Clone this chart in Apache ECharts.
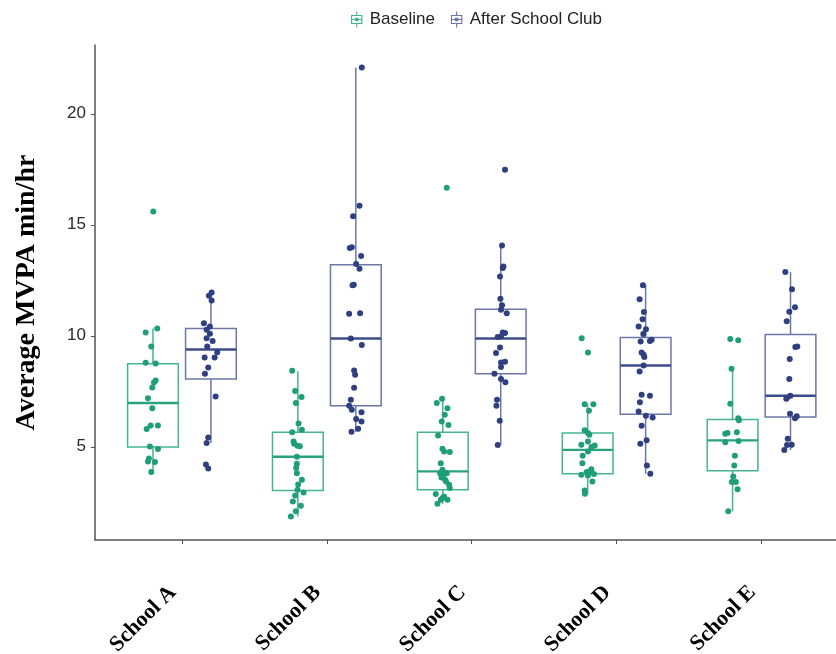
<!DOCTYPE html>
<html>
<head>
<meta charset="utf-8">
<script src="https://cdn.jsdelivr.net/npm/echarts@6/dist/echarts.min.js"></script>
<style>html,body{margin:0;padding:0;background:#fff}#c{width:836px;height:654px}</style>
</head>
<body>
<div id="c"></div>
<script>
const categories = ['School A', 'School B', 'School C', 'School D', 'School E'];
const yTicks = [5, 10, 15, 20];
const groupNames = ['Baseline', 'After School Club'];

// box stats: [lower whisker, Q1, median, Q3, upper whisker]
const baselineBoxes = [
  [3.86, 4.99, 6.97, 8.74, 10.33],
  [1.86, 3.03, 4.55, 5.65, 8.40],
  [2.43, 3.06, 3.89, 5.65, 7.17],
  [2.88, 3.78, 4.86, 5.62, 6.91],
  [2.09, 3.92, 5.29, 6.23, 8.51]
];
const afterBoxes = [
  [5.17, 8.05, 9.38, 10.33, 11.95],
  [5.68, 6.85, 9.88, 13.20, 22.08],
  [5.08, 8.29, 9.88, 11.19, 14.07],
  [3.78, 6.47, 8.66, 9.92, 12.28],
  [4.85, 6.34, 7.30, 10.06, 12.87]
];

// individual observations
const baselineA = [15.60,10.33,10.15,9.52,8.78,8.75,7.99,7.90,7.67,7.19,6.73,5.96,5.96,5.80,5.01,4.90,4.47,4.34,4.31,3.86];
const baselineB = [8.42,7.51,7.24,6.97,6.05,5.65,5.77,5.24,5.14,5.05,5.02,4.55,4.23,4.04,3.81,3.51,3.30,3.06,2.94,2.81,2.54,2.34,2.09,1.86];
const baselineC = [16.67,7.16,6.97,6.74,6.44,6.14,5.98,5.51,4.91,4.79,4.76,4.26,3.96,3.81,3.81,3.74,3.62,3.51,3.44,3.29,3.14,2.87,2.76,2.69,2.61,2.43,2.61];
const baselineD = [9.89,9.25,6.92,6.92,6.62,5.74,5.62,5.54,5.24,5.09,5.06,4.99,4.79,4.59,4.26,3.99,3.86,3.89,3.74,3.77,3.71,3.44,3.03,2.88];
const baselineE = [9.85,9.80,8.51,6.94,6.29,6.19,5.59,5.62,5.65,5.20,5.26,4.59,4.16,3.66,3.41,3.41,3.09,2.09];

const afterA = [11.95,11.80,11.59,10.57,10.42,10.27,10.09,9.89,9.77,9.52,9.26,9.02,9.02,8.57,8.29,7.27,5.42,5.17,4.20,4.02];
const afterB = [22.09,15.86,15.38,13.95,13.99,13.59,13.23,13.02,12.28,12.30,10.99,11.02,9.88,9.58,8.44,8.24,7.66,7.12,6.85,6.67,6.55,6.25,6.14,5.81,5.68];
const afterC = [17.48,14.07,13.12,13.05,12.67,11.67,11.37,11.17,11.02,10.15,10.12,9.97,9.94,9.47,9.22,8.80,8.83,8.59,8.29,8.05,7.91,7.12,6.85,6.17,5.08];
const afterD = [12.28,11.65,11.07,10.75,10.42,10.30,10.08,9.74,9.77,9.82,9.25,9.14,9.04,8.66,8.39,7.34,7.30,7.01,6.59,6.40,6.32,5.95,5.29,5.14,4.16,3.78];
const afterE = [12.87,12.10,11.28,11.08,10.65,9.49,9.52,8.95,8.05,7.30,7.21,7.16,6.49,6.37,6.28,5.36,5.08,5.09,4.85];

const baselineJitterA = [0.3,4.3,-7.3,-1.7,-7.3,2.7,2.7,1,-0.7,-5,-0.7,-2.3,5,-6.3,-3,5,-4,-5,2,-1.7];
const baselineJitterB = [-5.7,-2.7,3.7,-2,0.7,-5.7,4,-4.3,-3.7,-0.3,2,-1,-1,-1.7,-1,4,0.3,-0.3,5.7,-2.7,-5,3,-2,-7];
const baselineJitterC = [4,-0.7,-6,4.7,2,-1,5.7,-4.7,-0.3,1.3,7,-2,-0.3,-2.7,4,0.7,-1.3,2.3,3.3,6.3,7,-7,1.3,-0.3,4.7,-5.3,-2];
const baselineJitterD = [-6,0.3,-3,5.7,1.3,-3,0.3,1.7,0.3,-6.3,7,3.7,0.3,-5,-5.3,3.7,-1,2.3,-6.3,6.3,0.3,4.7,-3,-2.7];
const baselineJitterE = [-2.3,5.7,-1,-2.3,5.7,6.3,-7.3,-5,4.3,-7.3,6,2.3,1.7,0.7,-0.7,3.3,5,-4.3];

const afterJitterA = [0.7,-2,0.7,-7,-1,-4.3,-1,-4.3,1.7,-3.7,6.3,-6.3,3.7,-2.7,-6,4.7,-2.7,-4.3,-5,-2.7];
const afterJitterB = [6,3.7,-2.7,-6,-4,5.3,0.3,3.7,-3.3,-2,-6.7,4.3,-5,6,-1.7,-0.7,-1.7,-5,-6.7,-4,5.7,0.3,5.7,2.3,-4.3];
const afterJitterC = [4.3,1.3,2.7,2,-0.7,-0.3,1.3,0.3,6,2,4.3,0.3,-3,-0.7,-4.7,0.3,4.3,0.3,-6.3,0.3,4.7,-3.7,-4.3,-1,-3];
const afterJitterD = [-2.7,-6,-1.7,-3,-7,0.3,-2.3,-5,4.3,6,-4,-2,-1.3,-2,-6,-4,4.3,-5.7,-7,0.3,7,-4,1,-5.3,1.3,4.7];
const afterJitterE = [-5.2,1.5,4.5,-1.2,-3.8,4.8,6.8,-0.8,-1.2,-0.2,-3.5,-4.2,-0.5,6.2,4.5,-2.8,-3.5,1.2,-6.2];

const baselineValues = [baselineA, baselineB, baselineC, baselineD, baselineE];
const afterValues = [afterA, afterB, afterC, afterD, afterE];
const baselineJitter = [baselineJitterA, baselineJitterB, baselineJitterC, baselineJitterD, baselineJitterE];
const afterJitter = [afterJitterA, afterJitterB, afterJitterC, afterJitterD, afterJitterE];

// styling
const DODGE = 0.2, BOXW = 0.35, PX_PER_CAT = 144.9;
const GRID_LEFT = 95, GRID_W = 741;
const X_MIN = 0.4, X_MAX = X_MIN + GRID_W / PX_PER_CAT; // panel continues past the right edge
const colBase = {point: '#1f9e77', box: '#45b58e', median: '#2aa37c'};
const colAfter = {point: '#2f3f80', box: '#6b77a8', median: '#3d4c8c'};

function boxRender(col) {
  return function (params, api) {
    const x = api.value(0);
    const lo = api.coord([x, api.value(1)]);
    const q1 = api.coord([x, api.value(2)]);
    const md = api.coord([x, api.value(3)]);
    const q3 = api.coord([x, api.value(4)]);
    const hi = api.coord([x, api.value(5)]);
    const w = api.size([BOXW, 0])[0];
    const cx = lo[0];
    const ls = {stroke: col.box, lineWidth: 1.5, fill: null};
    return {
      type: 'group',
      children: [
        {type: 'line', shape: {x1: cx, y1: hi[1], x2: cx, y2: q3[1]}, style: ls},
        {type: 'line', shape: {x1: cx, y1: q1[1], x2: cx, y2: lo[1]}, style: ls},
        {type: 'rect', shape: {x: cx - w / 2, y: q3[1], width: w, height: q1[1] - q3[1]}, style: {stroke: col.box, lineWidth: 1.5, fill: 'rgba(255,255,255,0)'}},
        {type: 'line', shape: {x1: cx - w / 2, y1: md[1], x2: cx + w / 2, y2: md[1]}, style: {stroke: col.median, lineWidth: 2.4}}
      ]
    };
  };
}

function boxData(boxes, off) {
  return boxes.map((b, i) => [i + 1 + off].concat(b));
}
function pointData(values, jit, off) {
  const out = [];
  values.forEach((arr, i) => {
    arr.forEach((v, k) => out.push([i + 1 + off + jit[i][k] / PX_PER_CAT, v]));
  });
  return out;
}

const iconPath = 'path://M6.5 0H7.5V3H6.5Z M2 3H12V4H2Z M2 10H12V11H2Z M2 3H3V11H2Z M11 3H12V11H11Z M2 6.5H12V7.5H2Z M6.5 11H7.5V14H6.5Z M5.5 5.5H8.5V8.5H5.5Z';

const chart = echarts.init(document.getElementById('c'), null, {renderer: 'canvas'});
chart.setOption({
  animation: false,
  backgroundColor: '#fff',
  legend: {
    top: 6, left: 346, itemWidth: 16, itemHeight: 16, itemGap: 16,
    textStyle: {fontFamily: 'Liberation Sans', fontSize: 17, color: '#222'},
    data: [
      {name: groupNames[0], icon: iconPath, itemStyle: {color: colBase.box}},
      {name: groupNames[1], icon: iconPath, itemStyle: {color: colAfter.box}}
    ]
  },
  grid: {left: GRID_LEFT, top: 45, width: GRID_W, height: 495, containLabel: false, outerBoundsMode: 'none'},
  xAxis: {
    type: 'value', min: X_MIN, max: X_MAX,
    axisLine: {show: true, lineStyle: {color: '#555', width: 1.5}},
    axisTick: {show: true, customValues: [1, 2, 3, 4, 5], length: 4, lineStyle: {color: '#555'}},
    axisLabel: {
      customValues: [1, 2, 3, 4, 5],
      formatter: v => categories[Math.round(v) - 1] || '',
      rotate: 45, margin: 40, padding: [0, 13, 0, 0],
      fontFamily: 'Liberation Serif', fontWeight: 'bold', fontSize: 22, color: '#000'
    },
    splitLine: {show: false}
  },
  yAxis: {
    type: 'value', min: 0.8, max: 23.1,
    name: 'Average MVPA min/hr', nameLocation: 'middle', nameGap: 54,
    nameTextStyle: {fontFamily: 'Liberation Serif', fontWeight: 'bold', fontSize: 28, color: '#000'},
    axisLine: {show: true, lineStyle: {color: '#555', width: 1.5}},
    axisTick: {show: true, customValues: yTicks, length: 4, lineStyle: {color: '#555'}},
    axisLabel: {customValues: yTicks, margin: 9, fontFamily: 'Liberation Sans', fontSize: 17, color: '#2a2a2a'},
    splitLine: {show: false}
  },
  series: [
    {name: groupNames[0], type: 'custom', renderItem: boxRender(colBase), data: boxData(baselineBoxes, -DODGE),
     itemStyle: {color: colBase.box}, z: 1, encode: {x: 0, y: [1, 2, 3, 4, 5]}},
    {name: groupNames[1], type: 'custom', renderItem: boxRender(colAfter), data: boxData(afterBoxes, DODGE),
     itemStyle: {color: colAfter.box}, z: 1, encode: {x: 0, y: [1, 2, 3, 4, 5]}},
    {name: groupNames[0], type: 'scatter', symbolSize: 6, data: pointData(baselineValues, baselineJitter, -DODGE),
     itemStyle: {color: colBase.point, opacity: 1}, z: 3},
    {name: groupNames[1], type: 'scatter', symbolSize: 6, data: pointData(afterValues, afterJitter, DODGE),
     itemStyle: {color: colAfter.point, opacity: 1}, z: 3}
  ]
});
</script>
</body>
</html>
